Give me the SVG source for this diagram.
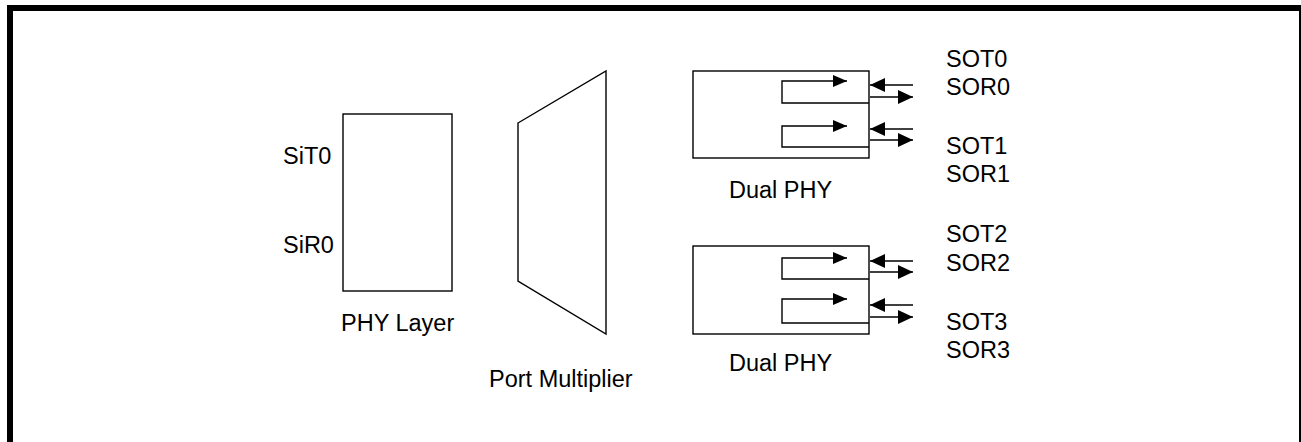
<svg xmlns="http://www.w3.org/2000/svg" width="1301" height="442" viewBox="0 0 1301 442">
  <style>
    .frame { fill: none; stroke: #000; stroke-width: 6; }
    .box { fill: #fff; stroke: #000; stroke-width: 1.4; }
    .wire { fill: none; stroke: #000; stroke-width: 1.4; }
    .lbl { font-family: "Liberation Sans", Arial, sans-serif; font-size: 23.5px; fill: #000; }
  </style>
  <defs>
    <marker id="tipSmall" viewBox="0 0 14 12" refX="14" refY="6" markerWidth="14" markerHeight="12" markerUnits="userSpaceOnUse" orient="auto">
      <path d="M0,0 L14,6 L0,12 Z" fill="#000"/>
    </marker>
    <marker id="tipPort" viewBox="0 0 15 14" refX="15" refY="7" markerWidth="15" markerHeight="14" markerUnits="userSpaceOnUse" orient="auto">
      <path d="M0,0 L15,7 L0,14 Z" fill="#000"/>
    </marker>
  </defs>

  <rect width="1301" height="442" fill="#fff"/>
  <!-- outer frame, running off the right and bottom edges -->
  <rect class="frame" x="10" y="8" width="1292" height="500"/>

  <g id="phy-layer">
    <rect class="box" x="343" y="114" width="109" height="177"/>
    <text class="lbl" x="283" y="164">SiT0</text>
    <text class="lbl" x="283" y="253">SiR0</text>
    <text class="lbl" x="341" y="331">PHY Layer</text>
  </g>

  <g id="port-multiplier">
    <polygon class="box" points="518,123 606,71 606,334 518,281"/>
    <text class="lbl" x="489" y="387">Port Multiplier</text>
  </g>

  <g id="dual-phy-a">
    <rect class="box" x="693" y="71" width="176" height="87"/>
    <path class="wire" d="M869,103 H782 V81 H847" marker-end="url(#tipSmall)"/>
    <path class="wire" d="M869,147 H782 V126 H847" marker-end="url(#tipSmall)"/>
    <text class="lbl" x="729" y="198">Dual PHY</text>
  </g>

  <g id="dual-phy-b">
    <rect class="box" x="693" y="246" width="176" height="88"/>
    <path class="wire" d="M869,279 H782 V258 H847" marker-end="url(#tipSmall)"/>
    <path class="wire" d="M869,323 H782 V299 H847" marker-end="url(#tipSmall)"/>
    <text class="lbl" x="729" y="371">Dual PHY</text>
  </g>

  <g id="port-labels">
    <text class="lbl" x="946" y="67">SOT0</text>
    <text class="lbl" x="946" y="95">SOR0</text>
    <text class="lbl" x="946" y="154">SOT1</text>
    <text class="lbl" x="946" y="182">SOR1</text>
    <text class="lbl" x="946" y="242">SOT2</text>
    <text class="lbl" x="946" y="271">SOR2</text>
    <text class="lbl" x="946" y="330">SOT3</text>
    <text class="lbl" x="946" y="358">SOR3</text>
  </g>

  <g id="connectors">
    <path class="wire" d="M913,85 H870" marker-end="url(#tipPort)"/>
    <path class="wire" d="M870,97 H913" marker-end="url(#tipPort)"/>
    <path class="wire" d="M913,129 H870" marker-end="url(#tipPort)"/>
    <path class="wire" d="M870,140 H913" marker-end="url(#tipPort)"/>
    <path class="wire" d="M913,261 H870" marker-end="url(#tipPort)"/>
    <path class="wire" d="M870,272 H913" marker-end="url(#tipPort)"/>
    <path class="wire" d="M913,305 H870" marker-end="url(#tipPort)"/>
    <path class="wire" d="M870,317 H913" marker-end="url(#tipPort)"/>
  </g>
</svg>
